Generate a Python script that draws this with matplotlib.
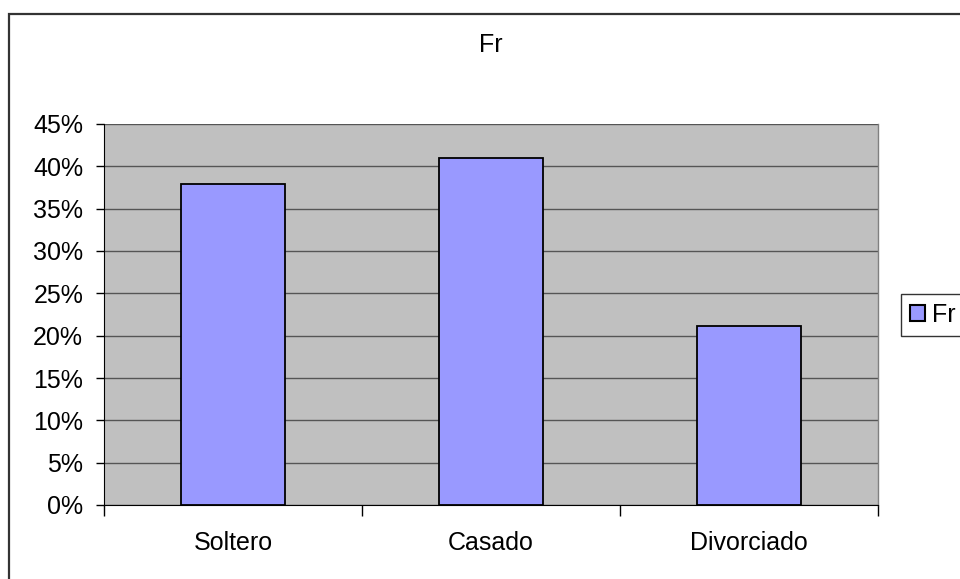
import matplotlib
matplotlib.use("Agg")
import matplotlib.pyplot as plt
from matplotlib.patches import Rectangle, Patch
from matplotlib.ticker import FixedLocator, PercentFormatter

plt.rcParams['font.family'] = ['Liberation Sans', 'DejaVu Sans']

categories = ["Soltero", "Casado", "Divorciado"]
values = [0.379, 0.410, 0.211]
yticks = [0, 0.05, 0.10, 0.15, 0.20, 0.25, 0.30, 0.35, 0.40, 0.45]
series_name = "Fr"
title = "Fr"

W, H = 960, 579
fig = plt.figure(figsize=(W / 100, H / 100), dpi=100)
fig.patch.set_facecolor("white")

# outer chart border
fig.add_artist(Rectangle((9 / W, -0.01), 1.1, 1 - 14 / H + 0.01, transform=fig.transFigure,
                         fill=False, edgecolor="#333333", linewidth=1.6))

ax = fig.add_axes([104 / W, 1 - 505 / H, (878 - 104) / W, (505 - 124) / H])
ax.set_facecolor("#C0C0C0")
x = list(range(len(categories)))
ax.bar(x, values, width=0.4, color="#9999FF", edgecolor="black", linewidth=1.3, zorder=3)

ax.set_xlim(-0.5, len(categories) - 0.5)
ax.set_ylim(0, 0.45)
ax.set_yticks(yticks)
ax.yaxis.set_major_formatter(PercentFormatter(1.0, decimals=0))
ax.yaxis.grid(True, color="#555555", linewidth=1.0, zorder=1)
ax.set_axisbelow(True)

ax.set_xticks(x)
ax.set_xticklabels(categories)
ax.xaxis.set_minor_locator(FixedLocator([i - 0.5 for i in range(len(categories) + 1)]))
ax.tick_params(axis="x", which="major", length=0, pad=19, labelsize=18)
ax.tick_params(axis="x", which="minor", length=8, width=1, color="black")
ax.tick_params(axis="y", length=6, width=1, color="black", pad=9, labelsize=18)

for s in ["top", "right"]:
    ax.spines[s].set_color("#808080")
    ax.spines[s].set_linewidth(1.0)
ax.spines["top"].set_visible(False)
ax.spines["left"].set_color("black")
ax.spines["bottom"].set_color("black")

fig.text(491 / W, 1 - 45 / H, title, ha="center", va="center", fontsize=18)

leg = fig.legend(handles=[Patch(facecolor="#9999FF", edgecolor="black", linewidth=1.5, label=series_name)],
                 loc="center left", bbox_to_anchor=(901 / W, 1 - 315 / H), fontsize=18,
                 frameon=True, fancybox=False, edgecolor="black", borderaxespad=0,
                 handlelength=0.6, handleheight=0.6, handletextpad=0.3, borderpad=0.35)
leg.get_frame().set_linewidth(1.0)

fig.savefig("out.png", dpi=100)
